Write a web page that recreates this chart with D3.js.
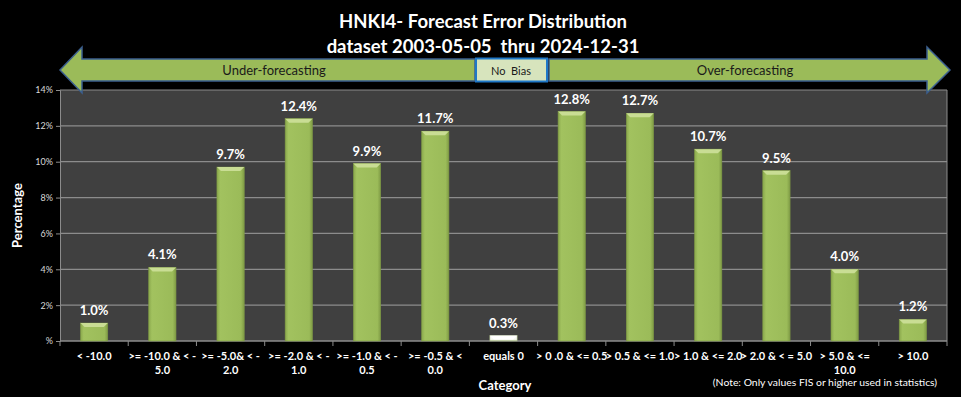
<!DOCTYPE html>
<html>
<head>
<meta charset="utf-8">
<script src="https://cdn.jsdelivr.net/npm/d3@7/dist/d3.min.js"></script>
<style>
  body { margin: 0; background: #000; }
  svg { display: block; font-family: Lato, "Open Sans", sans-serif; }
</style>
</head>
<body>
<svg id="chart" width="961" height="397"></svg>
<script>
var categories = [
    ["< -10.0"],
    [">= -10.0 & < -", "5.0"],
    [">= -5.0& < -", "2.0"],
    [">= -2.0 & < -", "1.0"],
    [">= -1.0 & < -", "0.5"],
    [">= -0.5 & <", "0.0"],
    ["equals 0"],
    ["> 0 .0 & <= 0.5"],
    ["> 0.5 & <= 1.0"],
    ["> 1.0 & <= 2.0"],
    ["> 2.0 & < = 5.0"],
    ["> 5.0 & <=", "10.0"],
    ["> 10.0"]
];
var percents = [1.0, 4.1, 9.7, 12.4, 9.9, 11.7, 0.3, 12.8, 12.7, 10.7, 9.5, 4.0, 1.2];
var yTicks = [0, 2, 4, 6, 8, 10, 12, 14];
var titleLines = ["HNKI4- Forecast Error Distribution", "dataset 2003-05-05  thru 2024-12-31"];

var plot = { left: 60, right: 947, top: 90, bottom: 341 };

var svg = d3.select("#chart");

var x = d3.scaleBand()
    .domain(d3.range(categories.length))
    .range([plot.left, plot.right])
    .paddingInner(0.6)
    .paddingOuter(0.3);

var y = d3.scaleLinear()
    .domain([0, 14])
    .range([plot.bottom, plot.top]);

// gradients for the bars
var defs = svg.append("defs");
var g1 = defs.append("linearGradient").attr("id", "barGreen").attr("x1", 0).attr("x2", 1);
g1.append("stop").attr("offset", "0%").attr("stop-color", "#8aa84c");
g1.append("stop").attr("offset", "12%").attr("stop-color", "#a2c25f");
g1.append("stop").attr("offset", "88%").attr("stop-color", "#9bbb59");
g1.append("stop").attr("offset", "100%").attr("stop-color", "#7f9b45");
var g2 = defs.append("linearGradient").attr("id", "barWhite").attr("x1", 0).attr("x2", 0).attr("y1", 0).attr("y2", 1);
g2.append("stop").attr("offset", "0%").attr("stop-color", "#ffffff");
g2.append("stop").attr("offset", "70%").attr("stop-color", "#f4f7ee");
g2.append("stop").attr("offset", "100%").attr("stop-color", "#b9c99a");

// plot background
svg.append("rect")
    .attr("x", plot.left).attr("y", plot.top)
    .attr("width", plot.right - plot.left).attr("height", plot.bottom - plot.top)
    .attr("fill", "#404040");

// gridlines
svg.append("g")
    .selectAll("line")
    .data(yTicks.filter(function(d) { return d > 0; }))
    .join("line")
    .attr("x1", plot.left).attr("x2", plot.right)
    .attr("y1", function(d) { return y(d); })
    .attr("y2", function(d) { return y(d); })
    .attr("stroke", "#8c8c8c")
    .attr("stroke-width", 1.2);

svg.append("line")
    .attr("x1", plot.right).attr("x2", plot.right)
    .attr("y1", plot.top).attr("y2", plot.bottom)
    .attr("stroke", "#8c8c8c");

// y axis
var yAxis = svg.append("g")
    .attr("transform", "translate(" + plot.left + ",0)")
    .call(d3.axisLeft(y).tickValues(yTicks).tickSize(4)
        .tickFormat(function(d) { return d === 0 ? "%" : d + "%"; }));
yAxis.select(".domain").attr("stroke", "#8c8c8c");
yAxis.selectAll(".tick line").attr("stroke", "#8c8c8c");
yAxis.selectAll("text").attr("fill", "#d9d9d9").attr("font-size", "9px").attr("font-family", "Lato, sans-serif");

// x axis: tick marks at category boundaries
var bounds = d3.range(categories.length + 1).map(function(i) {
    return plot.left + i * (plot.right - plot.left) / categories.length;
});
svg.append("line")
    .attr("x1", plot.left).attr("x2", plot.right)
    .attr("y1", plot.bottom).attr("y2", plot.bottom)
    .attr("stroke", "#8c8c8c").attr("stroke-width", 1.5);
svg.append("g").selectAll("line")
    .data(bounds)
    .join("line")
    .attr("x1", function(d) { return d; }).attr("x2", function(d) { return d; })
    .attr("y1", plot.bottom).attr("y2", plot.bottom + 5)
    .attr("stroke", "#8c8c8c");

// category labels
var catText = svg.append("g").selectAll("text")
    .data(categories)
    .join("text")
    .attr("text-anchor", "middle")
    .attr("fill", "#ffffff")
    .attr("font-size", "11px")
    .attr("font-weight", "bold")
    .attr("transform", function(d, i) { return "translate(" + (x(i) + x.bandwidth() / 2) + ",360)"; });
catText.selectAll("tspan")
    .data(function(d) { return d; })
    .join("tspan")
    .attr("x", 0)
    .attr("dy", function(d, i) { return i === 0 ? 0 : 14; })
    .text(function(d) { return d; });

// bars
var bars = svg.append("g").selectAll("g")
    .data(percents)
    .join("g");

bars.append("rect")
    .attr("x", function(d, i) { return x(i); })
    .attr("y", function(d) { return y(d); })
    .attr("width", x.bandwidth())
    .attr("height", function(d) { return y(0) - y(d); })
    .attr("fill", function(d, i) { return categories[i][0] === "equals 0" ? "url(#barWhite)" : "url(#barGreen)"; })
    .attr("stroke", function(d, i) { return categories[i][0] === "equals 0" ? "#9aab78" : "#7f9b45"; })
    .attr("stroke-width", 0.6);

// beveled top highlight
bars.append("path")
    .attr("d", function(d, i) {
        var x0 = x(i), x1 = x(i) + x.bandwidth(), t = y(d), b = 4;
        return "M" + x0 + "," + t + "L" + x1 + "," + t + "L" + (x1 - b) + "," + (t + b) +
            "L" + (x0 + b) + "," + (t + b) + "Z";
    })
    .attr("fill", function(d, i) { return categories[i][0] === "equals 0" ? "#ffffff" : "#c9dd94"; });

// value labels
svg.append("g").selectAll("text")
    .data(percents)
    .join("text")
    .attr("x", function(d, i) { return x(i) + x.bandwidth() / 2; })
    .attr("y", function(d) { return y(d) - 8; })
    .attr("text-anchor", "middle")
    .attr("fill", "#ffffff")
    .attr("font-size", "13px")
    .attr("font-weight", "bold")
    .text(function(d) { return d.toFixed(1) + "%"; });

// axis titles
svg.append("text")
    .attr("transform", "translate(22," + ((plot.top + plot.bottom) / 2) + ") rotate(-90)")
    .attr("text-anchor", "middle")
    .attr("fill", "#ffffff")
    .attr("font-size", "13px")
    .attr("font-weight", "bold")
    .text("Percentage");

svg.append("text")
    .attr("x", 505).attr("y", 390)
    .attr("text-anchor", "middle")
    .attr("fill", "#ffffff")
    .attr("font-size", "13px")
    .attr("font-weight", "bold")
    .text("Category");

svg.append("text")
    .attr("x", 825).attr("y", 386)
    .attr("text-anchor", "middle")
    .attr("fill", "#ffffff")
    .attr("font-size", "10.4px")
    .text("(Note: Only values FIS or higher used in statistics)");

// title
svg.append("g").selectAll("text")
    .data(titleLines)
    .join("text")
    .attr("x", 483)
    .attr("y", function(d, i) { return 28 + i * 25; })
    .attr("text-anchor", "middle")
    .attr("fill", "#ffffff")
    .attr("font-size", "18.5px")
    .attr("font-weight", "bold")
    .attr("xml:space", "preserve")
    .style("white-space", "pre")
    .text(function(d) { return d; });

// direction arrows
var arrowFill = "#9bbb59", arrowStroke = "#3b5f8f";
var mid = 70, bodyH = 11, headH = 23;
svg.append("path")
    .attr("d", "M60," + mid + "L82," + (mid - headH) + "L82," + (mid - bodyH) + "L475," + (mid - bodyH) +
        "L475," + (mid + bodyH) + "L82," + (mid + bodyH) + "L82," + (mid + headH) + "Z")
    .attr("fill", arrowFill).attr("stroke", arrowStroke).attr("stroke-width", 1.5);
svg.append("path")
    .attr("d", "M950," + mid + "L927," + (mid - headH) + "L927," + (mid - bodyH) + "L549," + (mid - bodyH) +
        "L549," + (mid + bodyH) + "L927," + (mid + bodyH) + "L927," + (mid + headH) + "Z")
    .attr("fill", arrowFill).attr("stroke", arrowStroke).attr("stroke-width", 1.5);
svg.append("rect")
    .attr("x", 476).attr("y", 58.5).attr("width", 71).attr("height", 23)
    .attr("fill", "#d7e4bd").attr("stroke", "#1f78c8").attr("stroke-width", 2);

var arrowLabels = [["Under-forecasting", 274, 13], ["No  Bias", 511, 11], ["Over-forecasting", 745, 13]];
svg.append("g").selectAll("text")
    .data(arrowLabels)
    .join("text")
    .attr("x", function(d) { return d[1]; })
    .attr("y", mid + 4.5)
    .attr("text-anchor", "middle")
    .attr("fill", "#1a1a1a")
    .attr("font-size", function(d) { return d[2] + "px"; })
    .style("white-space", "pre")
    .text(function(d) { return d[0]; });
</script>
</body>
</html>
